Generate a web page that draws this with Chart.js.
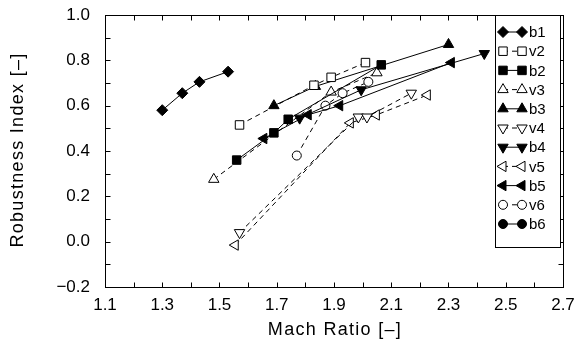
<!DOCTYPE html>
<html><head><meta charset="utf-8">
<script src="https://cdn.jsdelivr.net/npm/chart.js@4/dist/chart.umd.min.js"></script>
<style>html,body{margin:0;padding:0;background:#fff}#wrap{width:579px;height:347px}</style>
</head><body><div id="wrap"><canvas id="c" width="579" height="347"></canvas></div>
<script>
const seriesNames = ['b1','v2','b2','v3','b3','v4','b4','v5','b5','v6','b6'];
const b1X = [1.30, 1.37, 1.43, 1.53];   const b1Y = [0.58, 0.655, 0.705, 0.75];
const v2X = [1.57, 1.83, 1.89, 2.01];   const v2Y = [0.515, 0.69, 0.725, 0.79];
const b2X = [1.56, 1.69, 1.74, 2.065];  const b2Y = [0.36, 0.48, 0.54, 0.78];
const v3X = [1.48, 1.89, 2.05];         const v3Y = [0.275, 0.66, 0.745];
const b3X = [1.69, 1.835, 2.30];        const b3Y = [0.60, 0.685, 0.87];
const v4X = [1.57, 1.985, 2.015, 2.17]; const v4Y = [0.04, 0.55, 0.55, 0.655];
const b4X = [1.78, 1.995, 2.425];       const b4Y = [0.545, 0.67, 0.83];
const v5X = [1.555, 1.957, 2.048, 2.226]; const v5Y = [-0.015, 0.524, 0.559, 0.647];
const b5X = [1.655, 1.81, 1.92, 2.31];  const b5Y = [0.455, 0.56, 0.60, 0.79];
const v6X = [1.77, 1.87, 1.93, 2.02];   const v6Y = [0.38, 0.60, 0.655, 0.705];
const b6X = [];                          const b6Y = [];
const xTicks = [1.1, 1.3, 1.5, 1.7, 1.9, 2.1, 2.3, 2.5, 2.7];
const yTicks = [-0.2, 0.0, 0.2, 0.4, 0.6, 0.8, 1.0];
const xTitle = 'Mach Ratio [\u2013]';
const yTitle = 'Robustness Index [\u2013]';

const xs = [b1X,v2X,b2X,v3X,b3X,v4X,b4X,v5X,b5X,v6X,b6X];
const ys = [b1Y,v2Y,b2Y,v3Y,b3Y,v4Y,b4Y,v5Y,b5Y,v6Y,b6Y];
const styles = {
  b1:['rectRot',0,5.5], v2:['rect',0,6], b2:['rect',0,6], v3:['triangle',0,6], b3:['triangle',0,6],
  v4:['triangle',180,6], b4:['triangle',180,6], v5:['triangle',270,6], b5:['triangle',270,6],
  v6:['circle',0,4.5], b6:['circle',0,4.5]
};
const datasets = seriesNames.map((n,i)=>{
  const dashed = n[0]==='v';
  const st = styles[n];
  return {
    label:n,
    data: xs[i].map((x,j)=>({x:x,y:ys[i][j]})),
    showLine:true,
    borderColor:'#000', borderWidth:1, borderDash: dashed?[5,4]:[],
    pointStyle:st[0], rotation:st[1], pointRadius:st[2], pointHoverRadius:st[2],
    pointBackgroundColor: dashed?'#fff':'#000', pointBorderColor:'#000', pointBorderWidth:1,
    fill:false, tension:0
  };
});
const FONT = 'Liberation Sans, Arial, Helvetica, sans-serif';

const framePlugin = {
  id:'frame',
  afterDraw(chart){
    const ctx = chart.ctx, a = chart.chartArea, sx = chart.scales.x, sy = chart.scales.y;
    ctx.save();
    ctx.strokeStyle = '#000'; ctx.lineWidth = 1; ctx.setLineDash([]);
    const L=Math.round(a.left)+0.5, R=Math.round(a.right)+0.5, T=Math.round(a.top)+0.5, B=Math.round(a.bottom)+0.5;
    ctx.beginPath();
    for (let k=11;k<=27;k++){ const px=Math.round(sx.getPixelForValue(k/10))+0.5;
      ctx.moveTo(px,B); ctx.lineTo(px,B-5); ctx.moveTo(px,T); ctx.lineTo(px,T+5); }
    for (let k=-2;k<=10;k++){ const py=Math.round(sy.getPixelForValue(k/10))+0.5;
      ctx.moveTo(L,py); ctx.lineTo(L+5,py); ctx.moveTo(R,py); ctx.lineTo(R-5,py); }
    ctx.stroke();
    ctx.strokeRect(L,T,R-L,B-T);
    // axis titles
    ctx.fillStyle='#000';
    ctx.font = '18px '+FONT;
    try { ctx.letterSpacing = '1.3px'; } catch(e) {}
    ctx.textAlign='center'; ctx.textBaseline='middle';
    ctx.fillText(xTitle, (a.left+a.right)/2 + 1, 330);
    ctx.save(); ctx.translate(18,(a.top+a.bottom)/2); ctx.rotate(-Math.PI/2);
    ctx.fillText(yTitle, 1, 0); ctx.restore();
    try { ctx.letterSpacing = '0px'; } catch(e) {}
    // legend
    const lx=495.5, ly=T, lw=65, lh=232;
    ctx.fillStyle='#fff'; ctx.fillRect(lx,ly,lw,lh); ctx.strokeRect(lx,ly,lw,lh);
    ctx.font = '15px '+FONT; ctx.textBaseline='middle'; ctx.textAlign='left';
    chart.data.datasets.forEach((ds,i)=>{
      const y = 32 + i*19.2;
      ctx.strokeStyle='#000';
      ctx.setLineDash(ds.borderDash); ctx.beginPath(); ctx.moveTo(503,y); ctx.lineTo(522,y); ctx.stroke();
      ctx.setLineDash([]);
      const o = {pointStyle:ds.pointStyle, rotation:ds.rotation, radius:ds.pointRadius, borderWidth:1};
      [503,522].forEach(x=>{ ctx.fillStyle=ds.pointBackgroundColor; ctx.strokeStyle='#000';
        Chart.helpers.drawPoint(ctx,o,x,y); });
      ctx.fillStyle='#000'; ctx.fillText(ds.label,529,y+1);
    });
    ctx.restore();
  }
};

function zeroPad(s){ s.paddingTop=0; s.paddingBottom=0; s.paddingLeft=0; s.paddingRight=0; }

new Chart(document.getElementById('c'),{
  type:'scatter',
  data:{datasets},
  options:{
    responsive:false, animation:false, devicePixelRatio:1,
    layout:{padding:{top:15,right:16,left:0,bottom:0}},
    plugins:{legend:{display:false},tooltip:{enabled:false}},
    scales:{
      x:{type:'linear',min:1.1,max:2.7,
        afterBuildTicks(s){ s.ticks = xTicks.map(v=>({value:v})); },
        afterFit(s){ s.height=60; zeroPad(s); },
        grid:{display:false,drawTicks:false}, border:{display:false},
        ticks:{color:'#000',font:{family:FONT,size:17},padding:8,maxRotation:0,autoSkip:false,
          callback:(v)=>v.toFixed(1)},
        title:{display:false}
      },
      y:{type:'linear',min:-0.2,max:1.0,
        afterBuildTicks(s){ s.ticks = yTicks.map(v=>({value:v})); },
        afterFit(s){ s.width=105; zeroPad(s); },
        grid:{display:false,drawTicks:false}, border:{display:false},
        ticks:{color:'#000',font:{family:FONT,size:17},padding:15,autoSkip:false,
          callback:(v)=> (v<0?'\u2212':'')+Math.abs(v).toFixed(1)},
        title:{display:false}
      }
    }
  },
  plugins:[framePlugin]
});
</script></body></html>
